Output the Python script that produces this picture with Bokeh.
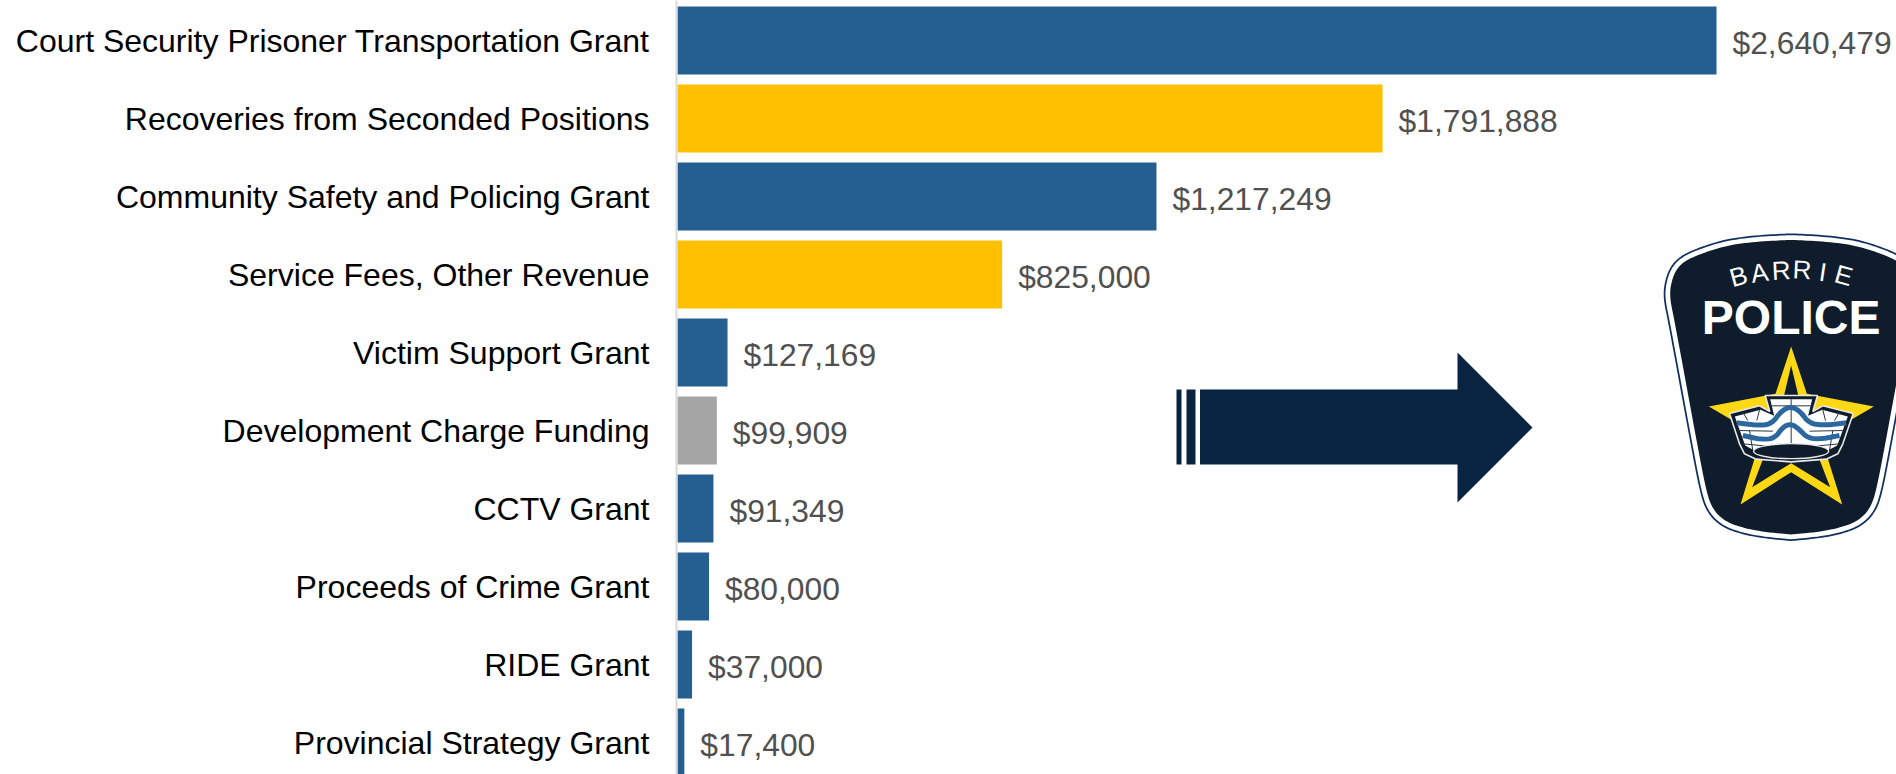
from bokeh.plotting import figure
from bokeh.models import Range1d, FixedTicker
from bokeh.core.properties import value
from bokeh.embed import file_html
from bokeh.resources import INLINE

categories = ["Court Security Prisoner Transportation Grant", "Recoveries from Seconded Positions",
              "Community Safety and Policing Grant", "Service Fees, Other Revenue", "Victim Support Grant",
              "Development Charge Funding", "CCTV Grant", "Proceeds of Crime Grant", "RIDE Grant",
              "Provincial Strategy Grant"]
amounts = [2640479, 1791888, 1217249, 825000, 127169, 99909, 91349, 80000, 37000, 17400]
bar_colors = ["#255E91", "#FFC000", "#255E91", "#FFC000", "#255E91", "#A5A5A5", "#255E91", "#255E91", "#255E91", "#255E91"]
amount_labels = ["${:,}".format(a) for a in amounts]

W, H = 1896, 774
AXIS_PX = 676          # frame left edge on the page
BAR0_PX = 677
PX_PER_USD = 1039 / 2640479
ROW = 78
ROW0 = 40

def X(px):
    return (px - BAR0_PX) / PX_PER_USD
def Y(py):
    return (py - ROW0) / ROW
def XS(pts):
    return [X(a) for a, _ in pts]
def YS(pts):
    return [Y(b) for _, b in pts]

p = figure(width=W, height=H, output_backend="svg", toolbar_location=None,
           x_range=Range1d(X(AXIS_PX), X(W)), y_range=Range1d(Y(H), Y(0)),
           x_axis_location=None, min_border=0, min_border_left=AXIS_PX, min_border_right=0,
           min_border_top=0, min_border_bottom=0, outline_line_color=None, background_fill_color="white")
p.grid.visible = False

ax = p.yaxis[0]
ax.ticker = FixedTicker(ticks=list(range(len(categories))))
ax.major_label_overrides = {i: c for i, c in enumerate(categories)}
ax.major_tick_line_color = None
ax.minor_tick_line_color = None
ax.axis_line_color = "#D9D9D9"
ax.axis_line_width = 2
ax.major_label_standoff = 21
ax.major_label_text_font = "Liberation Sans"
ax.major_label_text_font_size = "32px"
ax.major_label_text_color = "#000000"

p.hbar(y=list(range(len(amounts))), left=0, right=amounts, height=68 / ROW, fill_color=bar_colors, line_color=None)
p.text(x=amounts, y=list(range(len(amounts))), text=amount_labels, text_font=value("Liberation Sans"),
       text_font_size="31.8px", text_color="#505050", text_align="left", text_baseline="middle",
       x_offset=16, y_offset=2)

# arrow
NAVY = "#092441"
for pts in ([(1176, 389), (1181, 389), (1181, 464), (1176, 464)],
            [(1186, 389), (1195, 389), (1195, 464), (1186, 464)],
            [(1199.5, 389), (1457, 389), (1457, 352), (1532, 427), (1457, 502), (1457, 464), (1199.5, 464)]):
    p.patch(XS(pts), YS(pts), fill_color=NAVY, line_color=None)

# badge
CX = 1790.7
DARK = "#0F1C2B"
half = [(1790.7, 239.5), (1782, 239.7), (1749, 241.7), (1722, 246), (1695.7, 255), (1682, 262), (1674, 271.7),
        (1669.7, 286.7), (1669.7, 300), (1674, 320), (1696, 440), (1706, 492), (1712, 508), (1721, 518),
        (1734, 525), (1759, 531), (1790.7, 534)]

def chaikin(pts, n=3):
    for _ in range(n):
        out = [pts[0]]
        for (a, b), (c, d) in zip(pts, pts[1:]):
            out += [(0.75 * a + 0.25 * c, 0.75 * b + 0.25 * d), (0.25 * a + 0.75 * c, 0.25 * b + 0.75 * d)]
        out.append(pts[-1])
        pts = out
    return pts

left = chaikin(half)
right = [(2 * CX - a, b) for a, b in reversed(left)]
shield = left + right
p.patch(XS(shield), YS(shield), fill_color=DARK, line_color="#12305E", line_width=13, line_join="round")
p.patch(XS(shield), YS(shield), fill_color=DARK, line_color="#FFFFFF", line_width=9.5, line_join="round")
p.patch(XS(shield), YS(shield), fill_color=DARK, line_color=None)

# zoom-crop coordinates -> page pixels
def z(pts):
    return [(1699 + a / 3, 340 + b / 3) for a, b in pts]

YEL = "#FFD815"
star = z([(275, 18), (322, 160), (523, 198), (365, 290), (428, 492), (275, 395), (123, 492), (185, 290), (28, 198), (228, 160)])
p.patch(XS(star), YS(star), fill_color=YEL, line_color=None)
hole = z([(275, 75), (300, 180), (330, 215), (338, 300), (392, 440), (275, 368), (158, 440), (212, 300), (220, 215), (250, 180)])
p.patch(XS(hole), YS(hole), fill_color=DARK, line_color=None)

crown = z([(197, 165), (354, 165), (340, 213), (370, 196), (461, 219), (430, 310), (415, 340), (380, 356), (275, 364),
           (170, 356), (135, 340), (120, 310), (90, 219), (180, 196), (211, 213)])
p.patch(XS(crown), YS(crown), fill_color=DARK, line_color="#E8E8E8", line_width=1.6)
inner = z([(212, 176), (338, 176), (326, 226), (368, 208), (445, 228), (413, 315), (385, 330), (275, 338),
           (165, 330), (137, 315), (106, 228), (183, 208), (224, 226)])
p.patch(XS(inner), YS(inner), fill_color="#FFFFFF", line_color=None)
for seg in ([(212, 196), (338, 196)], [(275, 176), (275, 320)], [(130, 215), (145, 240)], [(180, 208), (172, 240)],
            [(370, 208), (378, 240)], [(420, 215), (405, 240)], [(115, 270), (220, 272)], [(330, 272), (435, 270)],
            [(130, 310), (215, 318)], [(420, 310), (335, 318)], [(150, 270), (160, 330)],
            [(400, 270), (390, 330)]):
    s = z(seg)
    p.line(XS(s), YS(s), line_color="#2A3644", line_width=1)
BLUE = "#2B689E"
for wave in ([(112, 247), (170, 254), (215, 252), (245, 212), (272, 198), (300, 210), (330, 250), (380, 254), (440, 247)],
             [(130, 285), (185, 297), (225, 294), (250, 260), (272, 250), (295, 262), (325, 294), (370, 295), (420, 285)]):
    s = z(chaikin(wave, 2))
    p.line(XS(s), YS(s), line_color=BLUE, line_width=5)
ec = z([(275, 332)])
p.ellipse(XS(ec), YS(ec), width=75, height=15, width_units="screen", height_units="screen",
          fill_color=DARK, line_color="#E8E8E8", line_width=1.4)

# badge lettering
letters = list("BARRIE")
lx = [1649 + v / 3 for v in (267, 330, 395, 458, 520, 583)]
ly = [230 + v / 3 for v in (137, 127, 120, 118, 125, 135)]
la = [0.27, 0.15, 0.05, -0.05, -0.15, -0.27]
p.text(x=[X(v) for v in lx], y=[Y(v) for v in ly], text=letters, angle=la, text_font=value("Liberation Sans"),
       text_font_size="26px", text_color="#FFFFFF", text_align="center", text_baseline="middle")
p.text(x=[X(CX)], y=[Y(317)], text=["POLICE"], text_font=value("Liberation Sans"), text_font_style="bold",
       text_font_size="48px", text_color="#FFFFFF", text_align="center", text_baseline="middle")

open("out.html", "w").write(file_html(p, INLINE))
